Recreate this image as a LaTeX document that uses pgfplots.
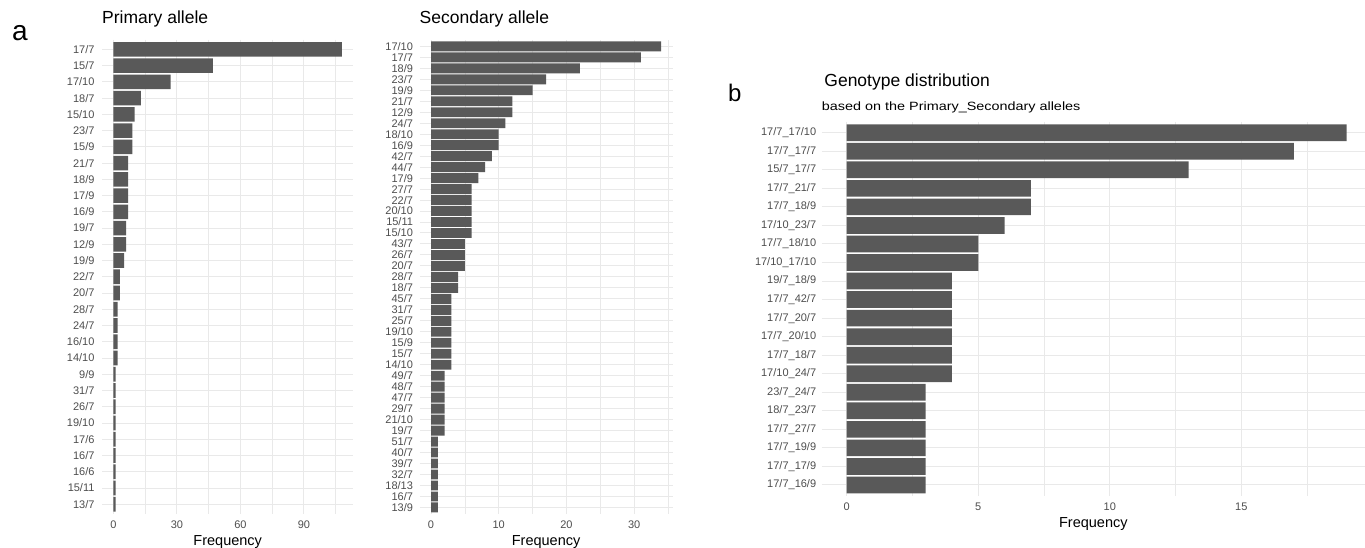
\documentclass[border=0pt]{standalone}
\usepackage{fontspec}
\setmainfont{Liberation Sans}
\newfontfamily\subfont[FakeStretch=1.2]{Liberation Sans}
\usepackage{pgfplots}
\pgfplotsset{compat=1.18}
\definecolor{barc}{RGB}{89,89,89}
\definecolor{tickc}{RGB}{77,77,77}
\definecolor{gridc}{RGB}{233,233,233}
\pgfplotsset{
  ggbar/.style={
    scale only axis,
    anchor=south west,
    y dir=reverse,
    axis line style={draw=none},
    tick style={draw=none},
    major tick length=0pt, minor tick length=0pt,
    xmajorgrids, xminorgrids, ymajorgrids,
    major grid style={draw=gridc, line width=1pt},
    minor grid style={draw=gridc, line width=0.6pt},
    ytick=data,
    tick label style={font=\fontsize{11}{13}\selectfont, text=tickc},
    /pgf/number format/assume math mode=true,
    xticklabel style={yshift=-3.5pt},
    xlabel style={font=\fontsize{14.5}{16}\selectfont, at={(axis description cs:0.5,0)}, anchor=base, yshift=-31pt},
    title style={font=\fontsize{17.5}{20}\selectfont, at={(axis description cs:0,1)}, anchor=base west, inner sep=0pt, yshift=10pt},
    xlabel={Frequency},
    clip mode=individual,
  },
  ggplot/.style={xbar, fill=barc, draw=none, bar width=0.9},
}
\begin{document}
\begin{tikzpicture}
\path[use as bounding box] (0,0) rectangle (1365pt,547pt);
\node[anchor=base west, inner sep=0pt, font=\fontsize{28}{30}\selectfont] at (12pt,506pt) {a};
\node[anchor=base west, inner sep=0pt, font=\fontsize{24}{26}\selectfont] at (728pt,445.3pt) {b};

% Primary allele
\begin{axis}[ggbar,
  at={(102pt,33pt)}, width=251.4pt, height=474.4pt,
  xmin=-5.4, xmax=113.4, ymin=-0.6, ymax=28.6,
  xtick={0,30,60,90}, minor xtick={15,45,75,105},
  yticklabel style={xshift=-4pt},
  yticklabels={17/7,15/7,17/10,18/7,15/10,23/7,15/9,21/7,18/9,17/9,16/9,19/7,12/9,19/9,22/7,20/7,28/7,24/7,16/10,14/10,9/9,31/7,26/7,19/10,17/6,16/7,16/6,15/11,13/7},
  title={Primary allele},
]
\addplot[ggplot] coordinates {
(108,0) (47,1) (27,2) (13,3) (10,4) (9,5) (9,6) (7,7) (7,8) (7,9)
(7,10) (6,11) (6,12) (5,13) (3,14) (3,15) (2,16) (2,17) (2,18) (2,19)
(1,20) (1,21) (1,22) (1,23) (1,24) (1,25) (1,26) (1,27) (1,28)};
\end{axis}

% Secondary allele
\begin{axis}[ggbar,
  at={(419.5pt,33pt)}, width=253.2pt, height=474.2pt,
  xmin=-1.7, xmax=35.7, ymin=-0.6, ymax=42.6,
  xtick={0,10,20,30}, minor xtick={5,15,25,35},
  yticklabel style={xshift=-3pt},
  yticklabels={17/10,17/7,18/9,23/7,19/9,21/7,12/9,24/7,18/10,16/9,42/7,44/7,17/9,27/7,22/7,20/10,15/11,15/10,43/7,26/7,20/7,28/7,18/7,45/7,31/7,25/7,19/10,15/9,15/7,14/10,49/7,48/7,47/7,29/7,21/10,19/7,51/7,40/7,39/7,32/7,18/13,16/7,13/9},
  title={Secondary allele},
]
\addplot[ggplot] coordinates {
(34,0) (31,1) (22,2) (17,3) (15,4) (12,5) (12,6) (11,7) (10,8) (10,9)
(9,10) (8,11) (7,12) (6,13) (6,14) (6,15) (6,16) (6,17) (5,18) (5,19)
(5,20) (4,21) (4,22) (3,23) (3,24) (3,25) (3,26) (3,27) (3,28) (3,29)
(2,30) (2,31) (2,32) (2,33) (2,34) (2,35) (1,36) (1,37) (1,38) (1,39)
(1,40) (1,41) (1,42)};
\end{axis}

% Genotype distribution
\begin{axis}[ggbar,
  at={(821.7pt,50.9pt)}, width=543.3pt, height=374.5pt,
  xmin=-0.95, xmax=19.7, ymin=-0.6, ymax=19.6,
  xtick={0,5,10,15}, minor xtick={2.5,7.5,12.5,17.5},
  yticklabel style={xshift=-2pt},
  yticklabels={17/7\_17/10,17/7\_17/7,15/7\_17/7,17/7\_21/7,17/7\_18/9,17/10\_23/7,17/7\_18/10,17/10\_17/10,19/7\_18/9,17/7\_42/7,17/7\_20/7,17/7\_20/10,17/7\_18/7,17/10\_24/7,23/7\_24/7,18/7\_23/7,17/7\_27/7,17/7\_19/9,17/7\_17/9,17/7\_16/9},
  title={Genotype distribution},
  title style={yshift=18.9pt, xshift=2.5pt},
]
\addplot[ggplot] coordinates {
(19,0) (17,1) (13,2) (7,3) (7,4) (6,5) (5,6) (5,7) (4,8) (4,9)
(4,10) (4,11) (4,12) (4,13) (3,14) (3,15) (3,16) (3,17) (3,18) (3,19)};
\node[anchor=base west, inner sep=0pt, yshift=11.6pt, font=\subfont\fontsize{12}{14}\selectfont] at (axis description cs:0,1) {based on the Primary\_Secondary alleles};
\end{axis}
\end{tikzpicture}
\end{document}
